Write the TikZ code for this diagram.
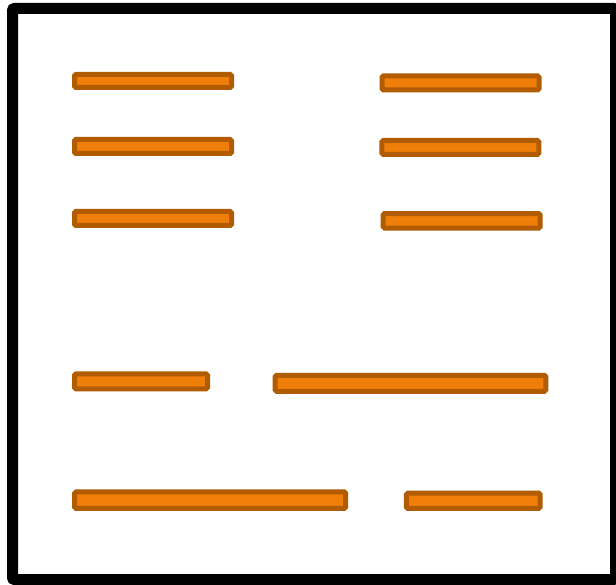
\documentclass[tikz,border=0pt]{standalone}
\definecolor{barfill}{RGB}{240,127,10}
\definecolor{barline}{RGB}{178,92,2}
\begin{document}
\begin{tikzpicture}[x=1pt,y=-1pt,
  barbox/.style={draw=barline,fill=barfill,line width=5pt,rounded corners=1.5pt,inner sep=0pt,anchor=center}]
\useasboundingbox (0,0) rectangle (616,585);
\fill[white] (0,0) rectangle (616,585);
\draw[line width=11pt,rounded corners=2pt] (12.5,8.5) rectangle (615.5,579.5);
\node[barbox,minimum width=157pt,minimum height=13pt] (b1) at (153,81) {};
\node[barbox,minimum width=157pt,minimum height=14pt] (b2) at (153,146.5) {};
\node[barbox,minimum width=157pt,minimum height=14pt] (b3) at (153,218.5) {};
\node[barbox,minimum width=157pt,minimum height=14pt] (b4) at (460.5,83) {};
\node[barbox,minimum width=157pt,minimum height=14pt] (b5) at (460.3,147.5) {};
\node[barbox,minimum width=157pt,minimum height=14.5pt] (b6) at (461.7,220.8) {};
\node[barbox,minimum width=133pt,minimum height=15pt] (b7) at (141,381.3) {};
\node[barbox,minimum width=270.6pt,minimum height=16pt] (b8) at (410.5,383.3) {};
\node[barbox,minimum width=271pt,minimum height=16.5pt] (b9) at (210.2,500.2) {};
\node[barbox,minimum width=133.7pt,minimum height=15.3pt] (b10) at (473.3,500.8) {};
\end{tikzpicture}
\end{document}
